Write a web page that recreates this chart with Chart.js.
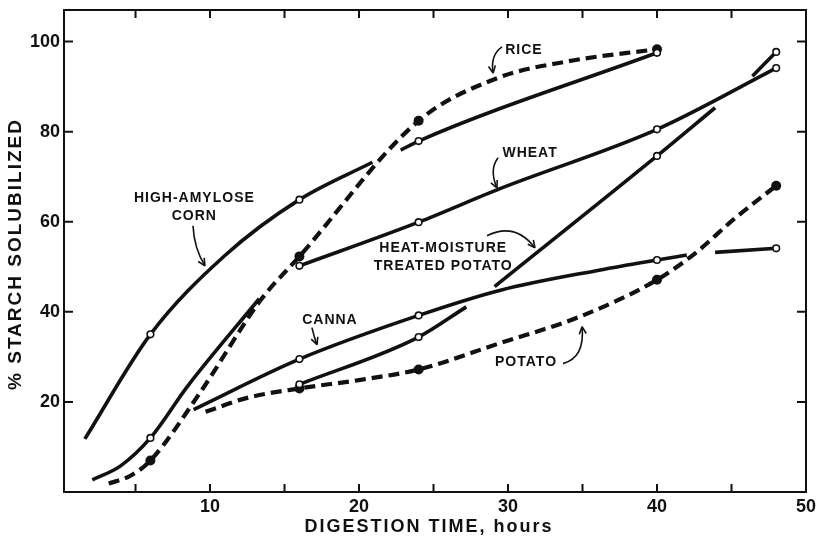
<!DOCTYPE html>
<html>
<head>
<meta charset="utf-8">
<title>Starch solubilized vs digestion time</title>
<script src="https://cdn.jsdelivr.net/npm/chart.js@4.4.1/dist/chart.umd.min.js"></script>
<style>
  html, body { margin: 0; padding: 0; background: #fff; }
  canvas { display: block; }
</style>
</head>
<body>
<canvas id="digestChart" width="817" height="537"></canvas>
<script>
// sample times (hours) where the points were measured
const sampleHours = [6, 16, 24, 40, 48];

// % starch solubilized at each sample time (null = no point drawn)
const cornValues = [35.0, 64.9, 77.9, 97.5, null];
const wheatValues = [12.0, 50.2, 59.9, 80.5, 94.1];
const riceValues = [7.0, 52.3, 82.4, 98.3, null];
const cannaValues = [null, 29.5, 39.2, 51.5, 54.1];
const hmtPotatoValues = [null, 23.9, 34.4, 74.6, 97.7];
const potatoValues = [null, 23.0, 27.2, 47.1, 68.0];

// the hand drawn curves as [hours, %] pieces
const cornCurve = [
  [[1.6, 11.8], [6, 35.0], [11, 52.5], [16, 64.9], [20.9, 73.2]],
  [[22.8, 75.9], [24, 77.9], [40, 97.5]]
];
const wheatCurve = [
  [[2.1, 2.7], [4.0, 5.8], [6, 12.0], [8.5, 23.5], [13.3, 42.9]],
  [[16, 50.2], [24, 59.9], [29.5, 67.4], [40, 80.5], [48, 94.1]]
];
const riceCurve = [
  [[3.2, 1.9], [4.6, 3.5], [6, 7.0], [9.3, 21.9], [13.4, 42.6], [16, 52.3],
   [24, 82.4], [29.3, 91.9], [34.0, 95.6], [40, 98.3]]
];
const cannaCurve = [
  [[8.9, 18.3], [16, 29.5], [24, 39.2], [29.5, 44.8], [36.2, 49.3], [40, 51.5], [42.0, 52.6]],
  [[43.9, 53.2], [48, 54.1]]
];
const hmtPotatoCurve = [
  [[16, 23.9], [24, 34.4], [27.2, 41.1]],
  [[29.1, 45.6], [40, 74.6], [43.9, 85.3]],
  [[46.4, 92.3], [48, 97.7]]
];
const potatoCurve = [
  [[9.7, 17.8], [12.5, 20.9], [16, 23.0], [20.1, 24.9], [24, 27.2], [29.5, 33.1],
   [34.8, 38.9], [40, 47.1], [42.6, 53.1], [45.1, 60.4], [48, 68.0]]
];

// axis ticks
const xTickValues = [5, 10, 15, 20, 25, 30, 35, 40, 45, 50];
const xLabelValues = [10, 20, 30, 40, 50];
const yTickValues = [20, 40, 60, 80, 100];

const xTitle = 'DIGESTION TIME, hours';
const yTitle = '% STARCH SOLUBILIZED';

const ink = '#111';
const letters = '"Liberation Sans", Arial, sans-serif';

// labels written on the plot, with their hand drawn arrows (data coords)
const notes = [
  { lines: ['RICE'], at: [31.07, 98.1], arrow: [[29.6, 98.8], [28.8, 97.0], [29.0, 93.0]] },
  { lines: ['WHEAT'], at: [31.48, 75.3], arrow: [[29.33, 74.2], [28.72, 71.5], [29.26, 67.5]] },
  { lines: ['HIGH-AMYLOSE', 'CORN'], at: [8.95, 63.2], arrow: [[8.86, 59.1], [8.92, 54.2], [9.66, 50.2]] },
  { lines: ['HEAT-MOISTURE', 'TREATED POTATO'], at: [25.65, 52.1], arrow: [[28.59, 56.9], [30.47, 60.0], [31.81, 54.2]] },
  { lines: ['CANNA'], at: [18.05, 38.2], arrow: [[16.84, 36.5], [16.98, 34.5], [17.18, 32.7]] },
  { lines: ['POTATO'], at: [31.21, 28.9], arrow: [[33.69, 28.5], [35.17, 29.8], [34.97, 36.7]] }
];

function curveSets(pieces, dashed) {
  return pieces.map(piece => ({
    data: piece.map(([x, y]) => ({ x, y })),
    borderColor: ink,
    borderWidth: dashed ? 4.2 : 3.6,
    borderDash: dashed ? [11, 6] : [],
    pointRadius: 0,
    cubicInterpolationMode: 'monotone',
    fill: false,
    order: 2
  }));
}

function markerSet(values, open) {
  return {
    data: sampleHours.map((h, i) => ({ x: h, y: values[i] })).filter(p => p.y !== null),
    showLine: false,
    pointRadius: open ? 3.3 : 5,
    pointHoverRadius: open ? 3.3 : 5,
    pointBorderWidth: open ? 1.6 : 0,
    pointBackgroundColor: open ? '#fff' : ink,
    pointBorderColor: ink,
    order: 1
  };
}

const datasets = [
  ...curveSets(cornCurve, false),
  ...curveSets(wheatCurve, false),
  ...curveSets(riceCurve, true),
  ...curveSets(cannaCurve, false),
  ...curveSets(hmtPotatoCurve, false),
  ...curveSets(potatoCurve, true),
  markerSet(cornValues, true),
  markerSet(wheatValues, true),
  markerSet(cannaValues, true),
  markerSet(hmtPotatoValues, true),
  markerSet(riceValues, false),
  markerSet(potatoValues, false)
];

const frameAndNotes = {
  id: 'frameAndNotes',
  afterDraw(chart) {
    const { ctx, chartArea: a, scales: { x, y } } = chart;
    ctx.save();

    // box round the plot, ticks pointing inwards on all four sides
    ctx.strokeStyle = ink;
    ctx.lineWidth = 2;
    ctx.strokeRect(a.left, a.top, a.right - a.left, a.bottom - a.top);
    ctx.beginPath();
    xTickValues.forEach(v => {
      const px = x.getPixelForValue(v);
      ctx.moveTo(px, a.bottom); ctx.lineTo(px, a.bottom - 8);
      ctx.moveTo(px, a.top); ctx.lineTo(px, a.top + 8);
    });
    yTickValues.forEach(v => {
      const py = y.getPixelForValue(v);
      ctx.moveTo(a.left, py); ctx.lineTo(a.left + 9, py);
      ctx.moveTo(a.right, py); ctx.lineTo(a.right - 9, py);
    });
    ctx.stroke();

    // notes and arrows
    ctx.fillStyle = ink;
    ctx.font = 'bold 14px ' + letters;
    ctx.letterSpacing = '1px';
    ctx.textAlign = 'center';
    ctx.textBaseline = 'middle';
    notes.forEach(n => {
      const cx = x.getPixelForValue(n.at[0]);
      const cy = y.getPixelForValue(n.at[1]);
      const lh = 18;
      n.lines.forEach((t, i) => {
        ctx.fillText(t, cx, cy + (i - (n.lines.length - 1) / 2) * lh);
      });
      const p = n.arrow.map(([vx, vy]) => [x.getPixelForValue(vx), y.getPixelForValue(vy)]);
      ctx.lineWidth = 1.6;
      ctx.beginPath();
      ctx.moveTo(p[0][0], p[0][1]);
      ctx.quadraticCurveTo(p[1][0], p[1][1], p[2][0], p[2][1]);
      ctx.stroke();
      const ang = Math.atan2(p[2][1] - p[1][1], p[2][0] - p[1][0]);
      ctx.beginPath();
      [-0.45, 0.45].forEach(d => {
        ctx.moveTo(p[2][0], p[2][1]);
        ctx.lineTo(p[2][0] - 8 * Math.cos(ang + d), p[2][1] - 8 * Math.sin(ang + d));
      });
      ctx.stroke();
    });

    // axis titles
    ctx.letterSpacing = '2px';
    ctx.font = 'bold 18px ' + letters;
    ctx.fillText(xTitle, (a.left + a.right) / 2 - 6, 527);
    ctx.font = 'bold 19px ' + letters;
    ctx.translate(16, (a.top + a.bottom) / 2 + 3);
    ctx.rotate(-Math.PI / 2);
    ctx.fillText(yTitle, 0, 0);
    ctx.restore();
  }
};

const tickFont = { family: letters, size: 18, weight: 'bold' };

new Chart(document.getElementById('digestChart'), {
  type: 'line',
  data: { datasets },
  options: {
    responsive: false,
    animation: false,
    layout: { padding: { top: 10, right: 11, left: 0, bottom: 0 } },
    plugins: {
      legend: { display: false },
      tooltip: { enabled: false }
    },
    scales: {
      x: {
        type: 'linear',
        min: 0.2,
        max: 50,
        grid: { display: false, drawTicks: false },
        border: { display: false },
        afterBuildTicks: s => { s.ticks = xTickValues.map(v => ({ value: v })); },
        afterFit: s => { s.height = 45; s.paddingLeft = 0; s.paddingRight = 0; },
        ticks: {
          padding: 4,
          color: ink,
          font: tickFont,
          autoSkip: false,
          maxRotation: 0,
          callback: v => (xLabelValues.includes(v) ? String(v) : '')
        }
      },
      y: {
        type: 'linear',
        min: 0,
        max: 107,
        grid: { display: false, drawTicks: false },
        border: { display: false },
        afterBuildTicks: s => { s.ticks = yTickValues.map(v => ({ value: v })); },
        afterFit: s => { s.width = 64; s.paddingTop = 0; s.paddingBottom = 0; },
        ticks: { padding: 4, color: ink, font: tickFont }
      }
    }
  },
  plugins: [frameAndNotes]
});
</script>
</body>
</html>
